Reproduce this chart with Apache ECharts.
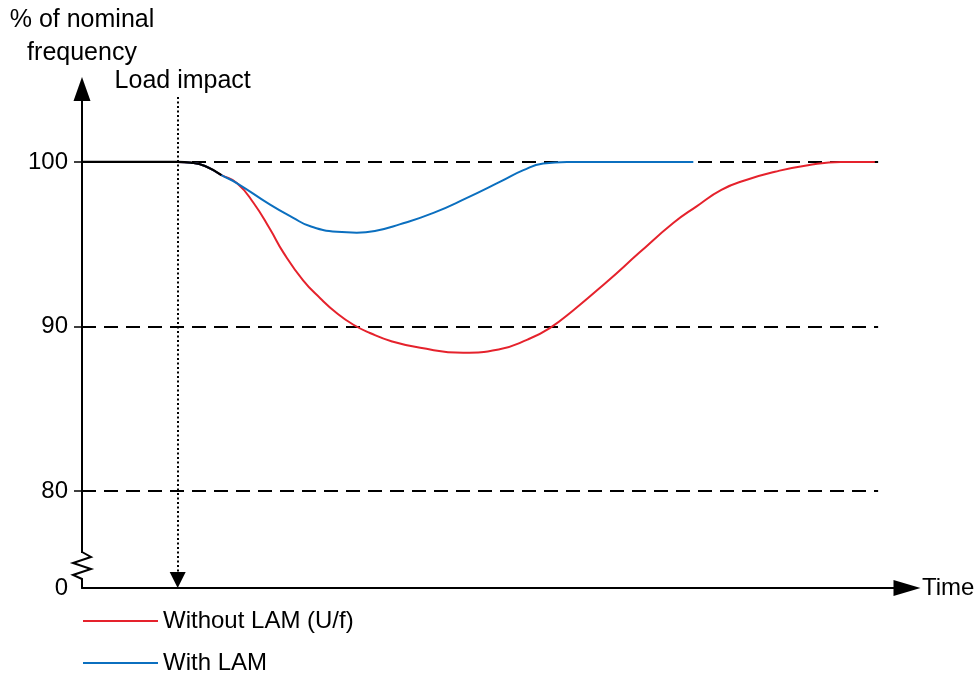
<!DOCTYPE html>
<html>
<head>
<meta charset="utf-8">
<script src="https://cdn.jsdelivr.net/npm/echarts@6/dist/echarts.min.js"></script>
<style>
  html, body { margin: 0; padding: 0; background: #fff; }
  #main { width: 978px; height: 680px; }
</style>
</head>
<body>
<div id="main"></div>
<script>
var chartDom = document.getElementById('main');
var myChart = echarts.init(chartDom);
var option;

// time axis is in arbitrary units (0..100), values in % of nominal frequency
var yMin = 74.1;
var yMax = 104.43;
var yTicks = [80, 90, 100];
var loadImpactT = 11.6;
var refLineEndT = 96.5;

var sharedT = [0, 11.6, 13.2, 14.9, 16.9];
var sharedPct = [100, 100, 99.95, 99.75, 99.2];

var withoutLamT = [0, 11.6, 13.2, 14.9, 16.9, 18.8, 20.8, 22.8, 24.4, 26.8, 28.9, 30.9, 32.9, 34.9,
  37.5, 41, 46.2, 50.5, 54, 56.7, 59.6, 63.6, 67.6, 71.7, 74.5, 77.5, 80.5, 84, 88, 92, 96.1];
var withoutLamPct = [100, 100, 99.95, 99.75, 99.2, 98.7, 97.5, 95.9, 94.5, 92.8, 91.7, 90.8, 90.1, 89.6,
  89.1, 88.7, 88.4, 88.6, 89.2, 89.9, 91.0, 92.7, 94.5, 96.3, 97.3, 98.3, 98.9, 99.4, 99.8, 100, 100];

var withLamT = [0, 11.6, 13.2, 14.9, 16.9, 18.8, 22.8, 25.6, 27.6, 30.9, 33.3, 35.5, 38.5, 42.6, 46.6,
  50.7, 53.5, 55.9, 58.8, 74.1];
var withLamPct = [100, 100, 99.95, 99.75, 99.2, 98.7, 97.4, 96.6, 96.1, 95.75, 95.7, 95.8, 96.2, 96.9, 97.8,
  98.8, 99.5, 99.9, 100, 100];

function pairs(t, v) {
  return t.map(function (x, i) { return [x, v[i]]; });
}

var font = 'Liberation Sans, Arial, sans-serif';

function legendAt(name, top) {
  return {
    data: [name],
    orient: 'vertical',
    left: 83,
    top: top,
    icon: 'rect',
    itemWidth: 75,
    itemHeight: 2,
    itemGap: 0,
    padding: 0,
    textStyle: { fontSize: 24, color: '#000', fontFamily: font }
  };
}

option = {
  animation: false,
  textStyle: { fontFamily: font, color: '#000' },
  grid: { left: 82, right: 71, top: 89, bottom: 92 },
  legend: [
    legendAt('Without LAM (U/f)', 609),
    legendAt('With LAM', 651)
  ],
  xAxis: {
    type: 'value',
    min: 0,
    max: 100,
    name: 'Time',
    nameLocation: 'end',
    nameGap: 15,
    nameTextStyle: { fontSize: 24, color: '#000', fontFamily: font },
    axisLine: {
      onZero: false,
      symbol: ['none', 'triangle'],
      symbolSize: [16, 27],
      lineStyle: { color: '#000', width: 2 }
    },
    axisTick: { show: false },
    axisLabel: { show: false },
    splitLine: { show: false }
  },
  yAxis: {
    type: 'value',
    min: yMin,
    max: yMax,
    name: '% of nominal\nfrequency',
    nameLocation: 'end',
    nameGap: 19,
    nameTextStyle: { fontSize: 25, color: '#000', fontFamily: font, lineHeight: 33, align: 'center' },
    axisLine: {
      onZero: false,
      symbol: ['none', 'triangle'],
      symbolSize: [17, 24],
      lineStyle: { color: '#000', width: 2 }
    },
    axisTick: {
      show: true,
      length: 8,
      customValues: yTicks,
      lineStyle: { color: '#000', width: 1.5 }
    },
    axisLabel: {
      margin: 14,
      fontSize: 24,
      color: '#000',
      fontFamily: font,
      customValues: [yMin].concat(yTicks),
      formatter: function (v) { return v === yMin ? '0' : String(v); }
    },
    splitLine: { show: false }
  },
  series: [
    {
      name: 'Without LAM (U/f)',
      type: 'line',
      smooth: 0.5,
      symbol: 'none',
      z: 3,
      color: '#E5222C',
      lineStyle: { color: '#E5222C', width: 2 },
      data: pairs(withoutLamT, withoutLamPct),
      markLine: {
        silent: true,
        z: 1,
        symbol: ['none', 'none'],
        label: { show: false },
        lineStyle: { color: '#000', width: 2, type: [14, 8] },
        data: yTicks.map(function (v) {
          return [{ coord: [0, v] }, { coord: [refLineEndT, v] }];
        })
      }
    },
    {
      name: 'With LAM',
      type: 'line',
      smooth: 0.5,
      symbol: 'none',
      z: 4,
      color: '#0B6FBF',
      lineStyle: { color: '#0B6FBF', width: 2 },
      data: pairs(withLamT, withLamPct)
    },
    {
      name: 'shared',
      type: 'line',
      smooth: 0.5,
      symbol: 'none',
      z: 5,
      color: '#000',
      lineStyle: { color: '#000', width: 2.2 },
      data: pairs(sharedT, sharedPct),
      markLine: {
        silent: true,
        z: 2,
        symbol: ['none', 'triangle'],
        symbolSize: 16,
        lineStyle: { color: '#000', width: 2, type: [2, 2.5] },
        label: {
          show: true,
          position: 'start',
          distance: 3,
          padding: [0, 0, 0, 10],
          formatter: 'Load impact',
          fontSize: 25,
          color: '#000',
          fontFamily: font
        },
        data: [[{ coord: [loadImpactT, 103.95] }, { coord: [loadImpactT, yMin + 0.49] }]]
      }
    }
  ],
  graphic: [
    {
      type: 'rect',
      z: 100,
      shape: { x: 79, y: 553, width: 6, height: 27 },
      style: { fill: '#fff' }
    },
    {
      type: 'polyline',
      z: 101,
      shape: { points: [[82, 552], [91, 557], [73, 563], [91, 569], [73, 575], [82, 579], [82, 581]] },
      style: { stroke: '#000', lineWidth: 2, fill: null }
    }
  ]
};

option && myChart.setOption(option);
</script>
</body>
</html>
